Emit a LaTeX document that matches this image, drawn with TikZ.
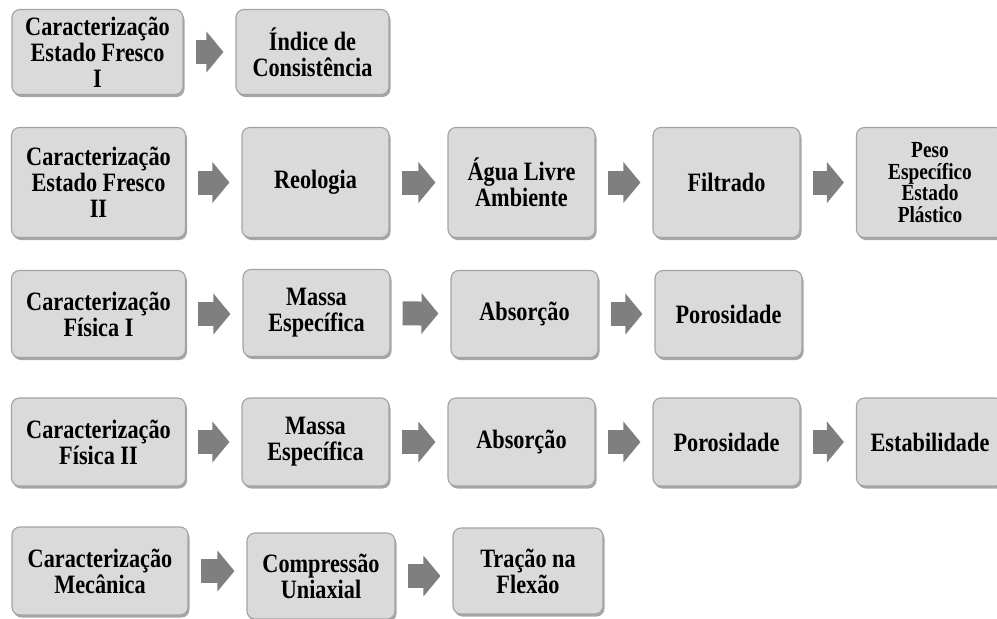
\documentclass[tikz,border=0pt]{standalone}
\usepackage{fontspec}
\setmainfont[FakeStretch=0.84]{Liberation Serif}
\usetikzlibrary{arrows.meta,shadows}
\definecolor{fundo}{HTML}{DADADA}
\definecolor{borda}{HTML}{A3A3A3}
\definecolor{cinza}{HTML}{7F7F7F}

\begin{document}
\begin{tikzpicture}[x=1pt,y=-1pt,
  cx/.style={draw=borda,fill=fundo,rounded corners=8pt,line width=1.1pt,
             align=center,inner sep=2pt,
             font=\fontsize{26.5}{26}\selectfont\bfseries,
             drop shadow={shadow xshift=1.5pt,shadow yshift=-2.5pt,
                          opacity=.35,fill=black}},
  larga/.style={cx,minimum width=174pt},
  media/.style={cx,minimum width=147pt},
  seta/.style={cinza,line width=24pt,-{Triangle[length=17pt,width=40pt]},
               shorten <=12pt,shorten >=12pt}]
\useasboundingbox (0,0) rectangle (997,619);

% ---------------- estado fresco I
\begin{scope}[every node/.append style={minimum height=85pt}]
  \node[larga,minimum width=171pt] (ef1) at (97.5,52) {Caracterização\\Estado Fresco\\I};
  \node[media,minimum width=153pt] (cons) at (312.5,52) {Índice de\\Consistência};
\end{scope}
\draw[seta] (ef1) -- (cons);

% ---------------- estado fresco II
\begin{scope}[every node/.append style={minimum height=110pt}]
  \node[larga] (ef2) at (98.5,182.5) {Caracterização\\Estado Fresco\\II};
  \node[media] (reo) at (315.5,182.5) {Reologia};
  \node[media] (agua) at (521.5,182.5) {Água Livre\\Ambiente};
  \node[media] (filt) at (726.5,182.5) {Filtrado};
  \node[media,font=\fontsize{23}{21.5}\selectfont\bfseries] (peso) at (930,182.5)
     {Peso\\Específico\\Estado\\Plástico};
\end{scope}
\draw[seta] (ef2) -- (reo);
\draw[seta] (reo) -- (agua);
\draw[seta] (agua) -- (filt);
\draw[seta] (filt) -- (peso);

% ---------------- fisica I
\begin{scope}[every node/.append style={minimum height=87pt,
              font=\fontsize{26.5}{25}\selectfont\bfseries}]
  \node[larga] (fis1) at (98.5,314) {Caracterização\\Física I};
  \node[media] (mas1) at (316.5,313) {Massa\\Específica};
  \node[media] (abs1) at (524.5,314) {Absorção};
  \node[media] (por1) at (728.5,314) {Porosidade};
\end{scope}
\draw[seta] (fis1) -- (fis1 -| mas1.west);
\draw[seta] (mas1) -- (abs1);
\draw[seta] (abs1) -- (por1);

% ---------------- fisica II
\begin{scope}[every node/.append style={minimum height=88pt,
              font=\fontsize{26.5}{25}\selectfont\bfseries}]
  \node[larga] (fis2) at (98.5,442) {Caracterização\\Física II};
  \node[media] (mas2) at (315.5,442) {Massa\\Específica};
  \node[media] (abs2) at (521.5,442) {Absorção};
  \node[media] (por2) at (726.5,442) {Porosidade};
  \node[media] (estab) at (930,442) {Estabilidade};
\end{scope}
\draw[seta] (fis2) -- (mas2);
\draw[seta] (mas2) -- (abs2);
\draw[seta] (abs2) -- (por2);
\draw[seta] (por2) -- (estab);

% ---------------- mecanica
\begin{scope}[every node/.append style={minimum height=86pt,
              font=\fontsize{26.5}{25}\selectfont\bfseries}]
  \node[larga,minimum width=176pt,minimum height=88pt] (mec) at (100,571) {Caracterização\\Mecânica};
  \node[media,minimum width=148pt] (comp) at (321,576) {Compressão\\Uniaxial};
  \node[media,minimum width=150pt] (trac) at (528,571) {Tração na\\Flexão};
\end{scope}
\draw[seta] (mec) -- (mec -| comp.west);
\draw[seta] (comp.center -| comp.east) -- (trac.west |- comp.center);
\end{tikzpicture}
\end{document}
